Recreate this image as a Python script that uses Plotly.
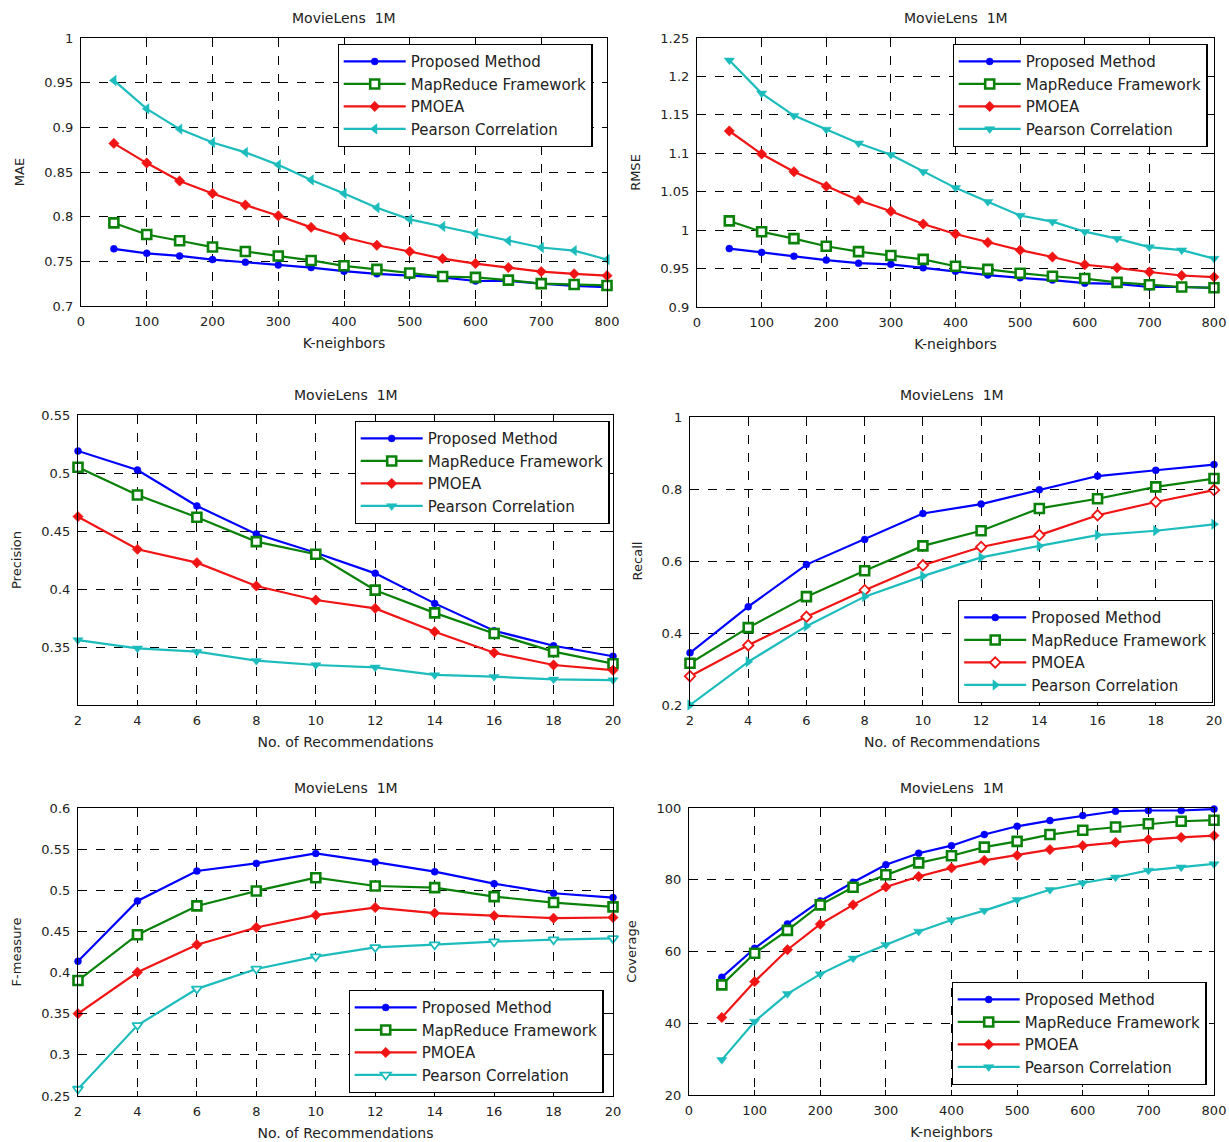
import plotly.graph_objects as go

W, H = 1229, 1142

series_names = ["Proposed Method", "MapReduce Framework", "PMOEA", "Pearson Correlation"]
colors = ["#0000ff", "#0a820a", "#f01414", "#1cbcbc"]

k_neighbors = [50, 100, 150, 200, 250, 300, 350, 400, 450, 500, 550, 600, 650, 700, 750, 800]
n_recs = [2, 4, 6, 8, 10, 12, 14, 16, 18, 20]

mae_proposed = [0.764, 0.759, 0.756, 0.752, 0.749, 0.746, 0.743, 0.739, 0.736, 0.734, 0.732, 0.728, 0.728, 0.725, 0.7225, 0.721]
mae_mapreduce = [0.793, 0.780, 0.773, 0.766, 0.761, 0.756, 0.751, 0.745, 0.741, 0.737, 0.733, 0.732, 0.729, 0.725, 0.724, 0.723]
mae_pmoea = [0.882, 0.860, 0.840, 0.826, 0.813, 0.801, 0.788, 0.777, 0.768, 0.761, 0.753, 0.7475, 0.743, 0.7385, 0.736, 0.734]
mae_pearson = [0.9525, 0.9207, 0.898, 0.883, 0.872, 0.858, 0.841, 0.826, 0.810, 0.797, 0.789, 0.781, 0.773, 0.7655, 0.762, 0.752]

rmse_proposed = [0.976, 0.971, 0.966, 0.961, 0.957, 0.9555, 0.951, 0.9465, 0.9415, 0.938, 0.935, 0.931, 0.930, 0.926, 0.926, 0.925]
rmse_mapreduce = [1.012, 0.998, 0.989, 0.979, 0.972, 0.967, 0.962, 0.953, 0.949, 0.944, 0.940, 0.937, 0.932, 0.929, 0.926, 0.925]
rmse_pmoea = [1.129, 1.099, 1.076, 1.057, 1.039, 1.0245, 1.008, 0.995, 0.984, 0.974, 0.965, 0.955, 0.951, 0.9455, 0.941, 0.939]
rmse_pearson = [1.221, 1.178, 1.149, 1.131, 1.113, 1.098, 1.076, 1.055, 1.037, 1.019, 1.011, 0.998, 0.989, 0.978, 0.974, 0.963]

prec_proposed = [0.519, 0.5026, 0.4716, 0.4474, 0.4313, 0.4135, 0.3876, 0.364, 0.3511, 0.342]
prec_mapreduce = [0.5049, 0.481, 0.4618, 0.4408, 0.430, 0.399, 0.3794, 0.3616, 0.346, 0.3356]
prec_pmoea = [0.4624, 0.4342, 0.4227, 0.4026, 0.3905, 0.3833, 0.3632, 0.345, 0.3345, 0.330]
prec_pearson = [0.356, 0.3489, 0.346, 0.3382, 0.3345, 0.3325, 0.3259, 0.3244, 0.3221, 0.3215]

recall_proposed = [0.345, 0.473, 0.590, 0.660, 0.732, 0.758, 0.798, 0.836, 0.852, 0.868]
recall_mapreduce = [0.316, 0.415, 0.501, 0.573, 0.642, 0.684, 0.746, 0.773, 0.806, 0.829]
recall_pmoea = [0.280, 0.366, 0.445, 0.519, 0.588, 0.639, 0.672, 0.727, 0.764, 0.797]
recall_pearson = [0.200, 0.320, 0.419, 0.501, 0.558, 0.610, 0.642, 0.672, 0.684, 0.702]

f_proposed = [0.4137, 0.487, 0.5234, 0.5327, 0.5448, 0.5343, 0.5226, 0.508, 0.4964, 0.4911]
f_mapreduce = [0.3903, 0.446, 0.481, 0.4992, 0.5153, 0.5052, 0.5032, 0.4923, 0.4851, 0.4798]
f_pmoea = [0.350, 0.4004, 0.4339, 0.4548, 0.4698, 0.479, 0.4722, 0.469, 0.4661, 0.4669]
f_pearson = [0.2585, 0.3359, 0.3802, 0.4044, 0.4194, 0.4306, 0.4339, 0.4375, 0.440, 0.4415]

cov_proposed = [52.8, 60.9, 67.7, 74.1, 79.3, 84.2, 87.4, 89.5, 92.6, 94.9, 96.5, 97.9, 99.1, 99.3, 99.3, 99.7]
cov_mapreduce = [50.7, 59.5, 65.9, 73.0, 77.9, 81.4, 84.7, 86.7, 89.1, 90.7, 92.6, 93.8, 94.7, 95.6, 96.3, 96.6]
cov_pmoea = [41.6, 51.6, 60.5, 67.6, 73.0, 78.0, 80.9, 83.3, 85.4, 86.8, 88.4, 89.5, 90.4, 91.2, 91.8, 92.3]
cov_pearson = [29.8, 40.5, 48.2, 53.7, 58.1, 61.9, 65.6, 68.8, 71.4, 74.4, 77.2, 79.1, 80.7, 82.6, 83.5, 84.4]

k_ticks = [0, 100, 200, 300, 400, 500, 600, 700, 800]
n_ticks = [2, 4, 6, 8, 10, 12, 14, 16, 18, 20]
mae_ticks = [0.7, 0.75, 0.8, 0.85, 0.9, 0.95, 1.0]
mae_ticktext = ["0.7", "0.75", "0.8", "0.85", "0.9", "0.95", "1"]
rmse_ticks = [0.9, 0.95, 1.0, 1.05, 1.1, 1.15, 1.2, 1.25]
rmse_ticktext = ["0.9", "0.95", "1", "1.05", "1.1", "1.15", "1.2", "1.25"]
prec_ticks = [0.35, 0.4, 0.45, 0.5, 0.55]
prec_ticktext = ["0.35", "0.4", "0.45", "0.5", "0.55"]
recall_ticks = [0.2, 0.4, 0.6, 0.8, 1.0]
recall_ticktext = ["0.2", "0.4", "0.6", "0.8", "1"]
f_ticks = [0.25, 0.3, 0.35, 0.4, 0.45, 0.5, 0.55, 0.6]
f_ticktext = ["0.25", "0.3", "0.35", "0.4", "0.45", "0.5", "0.55", "0.6"]
cov_ticks = [20, 40, 60, 80, 100]

FONT = "DejaVu Sans, Liberation Sans, sans-serif"
TXT = "#222222"

# panel boxes in pixels: (left, right, top, bottom); legend anchor (x, anchor, top)
panels = [
    dict(box=(81, 607, 38, 306), x=k_neighbors, xr=[0, 800], xt=k_ticks,
         yr=[0.7, 1.0], yt=mae_ticks, ytt=mae_ticktext, ylab="MAE", xlab="K-neighbors",
         ys=[mae_proposed, mae_mapreduce, mae_pmoea, mae_pearson],
         leg=(465, "center", 44), title_y=18, sym=["circle", "square", "diamond", "triangle-left"]),
    dict(box=(697, 1214, 38, 307), x=k_neighbors, xr=[0, 800], xt=k_ticks,
         yr=[0.9, 1.25], yt=rmse_ticks, ytt=rmse_ticktext, ylab="RMSE", xlab="K-neighbors",
         ys=[rmse_proposed, rmse_mapreduce, rmse_pmoea, rmse_pearson],
         leg=(1080, "center", 44), title_y=18, sym=["circle", "square", "diamond", "triangle-down"]),
    dict(box=(78, 613, 415, 705), x=n_recs, xr=[2, 20], xt=n_ticks,
         yr=[0.3, 0.55], yt=prec_ticks, ytt=prec_ticktext, ylab="Precision", xlab="No. of Recommendations",
         ys=[prec_proposed, prec_mapreduce, prec_pmoea, prec_pearson],
         leg=(482, "center", 421), title_y=395, sym=["circle", "square", "diamond", "triangle-down"]),
    dict(box=(690, 1214, 417, 705), x=n_recs, xr=[2, 20], xt=n_ticks,
         yr=[0.2, 1.0], yt=recall_ticks, ytt=recall_ticktext, ylab="Recall", xlab="No. of Recommendations",
         ys=[recall_proposed, recall_mapreduce, recall_pmoea, recall_pearson],
         leg=(1213, "right", 600), title_y=395, sym=["circle", "square", "diamond-open", "triangle-right"]),
    dict(box=(78, 613, 808, 1096), x=n_recs, xr=[2, 20], xt=n_ticks,
         yr=[0.25, 0.6], yt=f_ticks, ytt=f_ticktext, ylab="F-measure", xlab="No. of Recommendations",
         ys=[f_proposed, f_mapreduce, f_pmoea, f_pearson],
         leg=(476, "center", 990), title_y=788, sym=["circle", "square", "diamond", "triangle-down-open"]),
    dict(box=(689, 1214, 808, 1095), x=k_neighbors, xr=[0, 800], xt=k_ticks,
         yr=[20, 100], yt=cov_ticks, ytt=None, ylab="Coverage", xlab="K-neighbors",
         ys=[cov_proposed, cov_mapreduce, cov_pmoea, cov_pearson],
         leg=(1079, "center", 982), title_y=788, sym=["circle", "square", "diamond", "triangle-down"]),
]

fig = go.Figure()
layout = dict(
    template="none",
    width=W, height=H, margin=dict(l=0, r=0, t=0, b=0, autoexpand=False),
    paper_bgcolor="white", plot_bgcolor="white",
    font=dict(family=FONT, size=13, color=TXT),
    showlegend=True, annotations=[],
)

sizes = [7, 9, 8, 9]

for i, p in enumerate(panels):
    n = i + 1
    sfx = "" if n == 1 else str(n)
    l, r, t, b = p["box"]
    xd = [l / W, r / W]
    yd = [1 - b / H, 1 - t / H]
    legname = "legend" if n == 1 else f"legend{n}"
    for j in range(4):
        sym = p["sym"][j]
        if sym.endswith("-open"):
            base = sym[:-5]
            mk = dict(symbol=base, size=sizes[j], color="white", line=dict(color=colors[j], width=1.8))
        elif sym == "square":
            mk = dict(symbol="square", size=sizes[j], color="white", line=dict(color=colors[j], width=2.6))
        else:
            mk = dict(symbol=sym, size=sizes[j], color=colors[j], line=dict(color=colors[j], width=0.5))
        fig.add_trace(go.Scatter(
            x=p["x"], y=p["ys"][j], mode="lines+markers", name=series_names[j],
            xaxis="x" + sfx, yaxis="y" + sfx, legend=legname,
            legendgroup=f"g{n}_{j}",
            line=dict(color=colors[j], width=2.2),
            marker=mk,
            cliponaxis=False,
        ))
    ax_common = dict(
        showline=True, linecolor="black", linewidth=1.2, mirror="ticks",
        ticks="inside", ticklen=5, tickcolor="black", automargin=False,
        showgrid=True, gridcolor="black", gridwidth=1, griddash="dash",
        zeroline=False, tickfont=dict(family=FONT, size=13, color=TXT),
    )
    xa = dict(ax_common, domain=xd, range=p["xr"], tickvals=p["xt"], anchor="y" + sfx,
              ticklabelstandoff=3,
              title=dict(text=p["xlab"], font=dict(family=FONT, size=14, color=TXT), standoff=10))
    ya = dict(ax_common, domain=yd, range=p["yr"], tickvals=p["yt"], anchor="x" + sfx,
              ticklabelstandoff=4,
              title=dict(text=p["ylab"], font=dict(family=FONT, size=13, color=TXT), standoff=16))
    if p["ytt"] is not None:
        ya["ticktext"] = p["ytt"]
    layout["xaxis" + sfx] = xa
    layout["yaxis" + sfx] = ya
    lx, lanchor, ly = p["leg"]
    layout[legname] = dict(
        x=lx / W, y=1 - ly / H, xanchor=lanchor, yanchor="top",
        bgcolor="white", bordercolor="black", borderwidth=1.2,
        font=dict(family=FONT, size=15, color=TXT),
        tracegroupgap=0, traceorder="grouped", itemwidth=62,
    )
    layout["annotations"].append(dict(
        text="MovieLens  1M", x=(l + r) / 2 / W, y=1 - p["title_y"] / H,
        xref="paper", yref="paper", showarrow=False, xanchor="center", yanchor="middle",
        font=dict(family=FONT, size=14, color=TXT),
    ))

fig.update_layout(**layout)
fig.write_html(
    "out.html",
    config={"displayModeBar": False},
    post_script="document.body.style.margin='0px';document.body.style.overflow='hidden';",
)
